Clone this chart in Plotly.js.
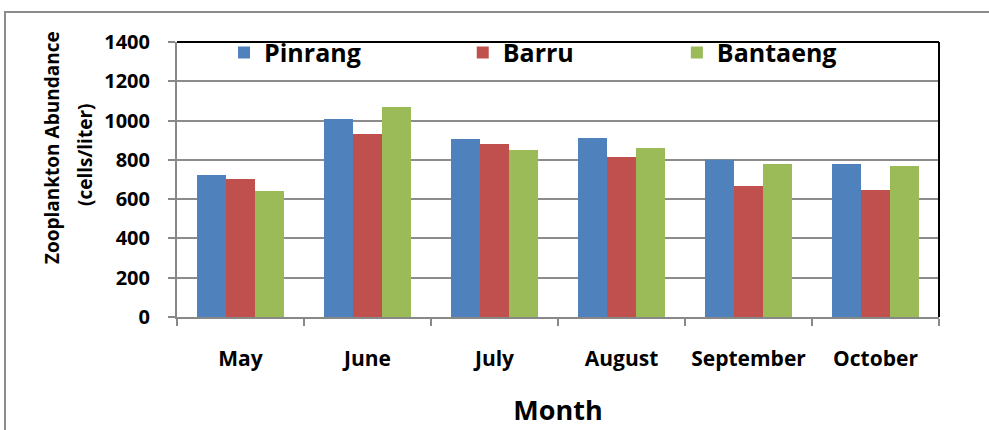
<!DOCTYPE html>
<html>
<head>
<meta charset="utf-8">
<script src="https://cdn.plot.ly/plotly-3.0.1.min.js"></script>
<style>body{margin:0;background:#fff}#chart{width:989px;height:430px}</style>
</head>
<body>
<div id="chart"></div>
<script>
const months = ["May", "June", "July", "August", "September", "October"];
const pinrang = [723, 1008, 906, 911, 800, 779];
const barru = [703, 932, 881, 815, 667, 647];
const bantaeng = [641, 1069, 850, 860, 779, 769];
const seriesNames = ["Pinrang", "Barru", "Bantaeng"];
const yTicks = [0, 200, 400, 600, 800, 1000, 1200, 1400];
const yTitleLines = ["Zooplankton Abundance", "(cells/liter)"];
const xTitle = "Month";

const FONT = "'Open Sans', sans-serif";
const colors = ["#4F81BD", "#C0504D", "#9BBB59"];
const series = [pinrang, barru, bantaeng];
const legendIds = ["legend", "legend2", "legend3"];

const traces = series.map((vals, i) => ({
  type: "bar",
  name: seriesNames[i],
  x: months,
  y: vals,
  marker: {color: colors[i], line: {width: 0}},
  legend: legendIds[i],
  hoverinfo: "x+y+name"
}));

const legendBase = (x) => ({
  x: x, y: 1.045, xanchor: "left", yanchor: "top",
  orientation: "h",
  bgcolor: "rgba(0,0,0,0)",
  font: {family: FONT, size: 25, color: "#000", weight: "bold"},
  itemwidth: 30
});

const layout = {
  width: 989, height: 430,
  margin: {l: 177, r: 50, t: 42, b: 113},
  paper_bgcolor: "#fff",
  plot_bgcolor: "#fff",
  barmode: "group",
  bargap: 0.315,
  bargroupgap: 0,
  font: {family: FONT, color: "#000"},
  showlegend: true,
  legend: legendBase(0.0617),
  legend2: legendBase(0.375),
  legend3: legendBase(0.656),
  xaxis: {
    type: "category",
    tickson: "boundaries",
    ticks: "outside",
    ticklen: 7,
    tickcolor: "#888",
    tickwidth: 2,
    showline: true,
    linecolor: "#888",
    linewidth: 2,
    showgrid: false,
    tickfont: {family: FONT, size: 21, weight: "bold", color: "#000"},
    ticklabelstandoff: 22,
    title: {text: xTitle, font: {family: FONT, size: 27, weight: "bold", color: "#000"}, standoff: 30},
    automargin: false
  },
  yaxis: {
    range: [0, 1400],
    tickvals: yTicks,
    ticktext: yTicks.map(String),
    ticks: "outside",
    ticklen: 7,
    tickcolor: "#888",
    tickwidth: 2,
    showline: true,
    linecolor: "#888",
    linewidth: 2,
    showgrid: true,
    gridcolor: "#8c8c8c",
    gridwidth: 2,
    zeroline: false,
    tickfont: {family: FONT, size: 20, weight: "bold", color: "#000"},
    ticklabelstandoff: 14,
    automargin: false
  },
  annotations: [
    {text: yTitleLines[0], xref: "paper", yref: "paper", x: (52 - 177) / 762, y: (317 - 148) / 275,
     xanchor: "center", yanchor: "middle", textangle: -90, showarrow: false,
     font: {family: FONT, size: 19, weight: "bold", color: "#000"}},
    {text: yTitleLines[1], xref: "paper", yref: "paper", x: (85 - 177) / 762, y: (317 - 155) / 275,
     xanchor: "center", yanchor: "middle", textangle: -90, showarrow: false,
     font: {family: FONT, size: 19, weight: "bold", color: "#000"}}
  ],
  shapes: [
    {type: "rect", xref: "paper", yref: "paper", x0: -0.2257, x1: 1.3, y0: -0.6, y1: 1.109,
     line: {color: "#8c8c8c", width: 2}, fillcolor: "rgba(0,0,0,0)", layer: "below"},
    {type: "line", xref: "paper", yref: "paper", x0: 0, x1: 1, y0: 1, y1: 1, line: {color: "#000", width: 2}},
    {type: "line", xref: "paper", yref: "paper", x0: 1, x1: 1, y0: 0, y1: 1, line: {color: "#000", width: 2}}
  ]
};

Plotly.newPlot("chart", traces, layout, {displayModeBar: false, staticPlot: true});
</script>
</body>
</html>
